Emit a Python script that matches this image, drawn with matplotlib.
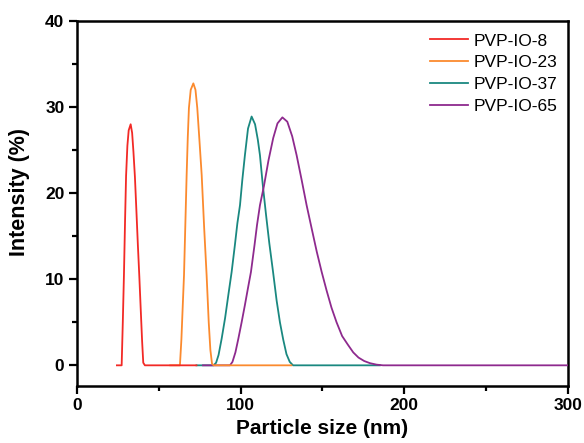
import matplotlib.pyplot as plt
import matplotlib as mpl
from matplotlib.ticker import MultipleLocator

mpl.rcParams['font.family'] = 'sans-serif'
mpl.rcParams['font.sans-serif'] = ['Liberation Sans', 'Arial', 'DejaVu Sans']

# DLS intensity distributions
size_io8 = [24.4, 27.3, 28.0, 28.7, 29.4, 30.0, 30.8, 31.6, 32.8, 33.7, 34.5,
            35.4, 36.3, 37.2, 38.1, 39.0, 39.8, 40.5, 41.5, 73.0]
int_io8 = [0, 0, 5.0, 10.5, 17.0, 22.0, 25.5, 27.3, 28.0, 27.0, 24.8,
           21.9, 18.0, 14.0, 10.3, 6.3, 2.8, 0.3, 0, 0]

size_io23 = [57.0, 62.9, 63.8, 64.6, 65.4, 66.2, 67.0, 67.7, 68.4, 69.5, 71.1,
             72.4, 73.5, 74.8, 76.2, 77.7, 79.2, 80.5, 81.5, 82.5, 83.5, 131.0]
int_io23 = [0, 0, 3.0, 6.8, 10.5, 16.3, 22.1, 26.5, 29.9, 32.0, 32.75,
            32.0, 29.9, 26.2, 22.1, 16.0, 10.5, 5.0, 1.8, 0.2, 0, 0]

size_io37 = [73.0, 83.5, 85.0, 86.5, 88.4, 90.5, 92.5, 94.5, 96.5, 98.0, 99.6,
             101.0, 102.6, 104.5, 106.7, 108.8, 110.5, 111.8, 113.5, 115.5,
             117.5, 119.8, 122.0, 124.0, 126.0, 128.0, 130.0, 132.0, 185.0]
int_io37 = [0, 0, 0.3, 1.2, 3.1, 5.5, 8.2, 10.85, 14.0, 16.5, 18.6,
            21.5, 24.4, 27.5, 28.9, 28.0, 26.2, 24.4, 21.0, 17.5,
            14.2, 10.85, 7.5, 5.0, 3.0, 1.3, 0.4, 0, 0]

size_io65 = [77.0, 93.5, 95.0, 96.8, 98.6, 100.6, 102.6, 104.5, 106.3, 108.5,
             110.0, 111.8, 114.2, 117.0, 119.9, 122.5, 125.5, 128.5, 131.5,
             134.2, 137.2, 140.3, 143.5, 146.5, 149.5, 152.5, 155.5, 158.6,
             162.0, 165.5, 168.8, 172.0, 175.5, 179.0, 183.0, 187.0, 300.0]
int_io65 = [0, 0, 0.4, 1.5, 3.1, 5.0, 7.0, 9.0, 10.85, 14.0,
            16.3, 18.6, 20.8, 23.8, 26.4, 28.1, 28.8, 28.3, 26.6,
            24.4, 21.6, 18.6, 15.8, 13.2, 10.85, 8.7, 6.7, 5.0,
            3.4, 2.4, 1.5, 0.9, 0.5, 0.25, 0.08, 0, 0]

series = [
    ('PVP-IO-8', size_io8, int_io8, '#f22a26'),
    ('PVP-IO-23', size_io23, int_io23, '#fb8a2e'),
    ('PVP-IO-37', size_io37, int_io37, '#1a8880'),
    ('PVP-IO-65', size_io65, int_io65, '#8e2a8e'),
]
z_order = {'PVP-IO-8': 5, 'PVP-IO-23': 4, 'PVP-IO-37': 2, 'PVP-IO-65': 3}

fig = plt.figure(figsize=(5.84, 4.43), dpi=100)
ax = fig.add_axes([0.1318, 0.1287, 0.8408, 0.824])

for label, xs, ys, color in series:
    ax.plot(xs, ys, color=color, lw=1.3, label=label, zorder=z_order[label])

ax.set_xlim(0, 300)
ax.set_ylim(-2.4, 40)
ax.xaxis.set_major_locator(MultipleLocator(100))
ax.xaxis.set_minor_locator(MultipleLocator(50))
ax.yaxis.set_major_locator(MultipleLocator(10))
ax.yaxis.set_minor_locator(MultipleLocator(5))

for spine in ax.spines.values():
    spine.set_linewidth(1.8)
ax.tick_params(which='major', direction='out', length=6, width=1.6,
               labelsize=12.5, pad=3, top=False, right=False)
ax.tick_params(which='minor', direction='out', length=3.5, width=1.6,
               top=False, right=False)
for lbl in ax.get_xticklabels() + ax.get_yticklabels():
    lbl.set_fontweight('bold')

ax.set_xlabel('Particle size (nm)', fontsize=15, fontweight='bold', labelpad=4)
ax.set_ylabel('Intensity (%)', fontsize=15.5, fontweight='bold')
ax.yaxis.set_label_coords(-0.096, 0.531)

ax.legend(loc='upper left', bbox_to_anchor=(0.719, 0.966), frameon=False,
          fontsize=12.5, handlelength=2.2, handletextpad=0.3, labelspacing=0.38,
          borderpad=0, borderaxespad=0)

fig.savefig('out.png', dpi=100)
